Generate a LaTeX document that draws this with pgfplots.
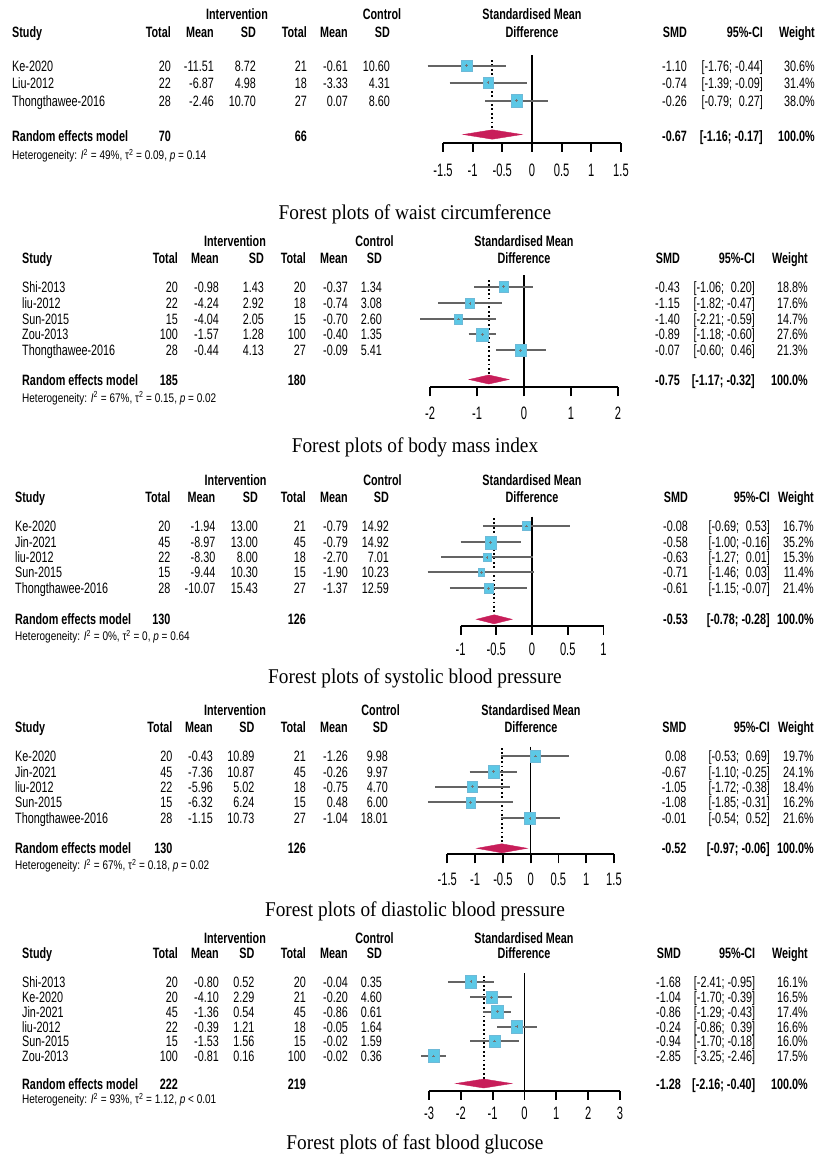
\documentclass[border=0pt]{standalone}
\usepackage{fontspec}
\setmainfont{Liberation Sans}[FakeStretch=0.72]
\newfontfamily\tickfont{Liberation Sans}[FakeStretch=0.62]
\newfontfamily\hetfont{Liberation Sans}[FakeStretch=0.8]
\newfontfamily\capfont{Liberation Serif}[FakeStretch=0.92]
\usepackage{pgfplots}
\usepackage{pgfplotstable}
\pgfplotsset{compat=1.18}

\definecolor{sqblue}{RGB}{92,200,230}
\definecolor{sqedge}{RGB}{110,185,215}
\definecolor{diam}{RGB}{200,30,90}
\definecolor{cigray}{RGB}{100,100,100}

\newcommand\rowf{\fontsize{15bp}{18bp}\selectfont}
\newcommand\tickf{\fontsize{18bp}{20bp}\tickfont}
\newcommand\hetf{\fontsize{12.5bp}{14bp}\hetfont}
\newcommand\capf{\fontsize{21bp}{24bp}\capfont}

% text helpers: x, y (glyph centre in px from the top), text
\newcommand\TL[3]{\node[anchor=base west] at (#1bp,{-#2bp-5.4bp}) {#3};}
\newcommand\TR[3]{\node[anchor=base east] at (#1bp,{-#2bp-5.4bp}) {#3};}
\newcommand\TC[3]{\node[anchor=base] at (#1bp,{-#2bp-5.4bp}) {#3};}
\newcommand\Cols[9]{\def\cS{#1}\def\cTa{#2}\def\cMa{#3}\def\cSa{#4}\def\cTb{#5}\def\cMb{#6}\def\cSb{#7}\def\cE{#8}\def\cCI{#9}}
\newcommand\Row[8]{\TL{\cS}{#1}{#2}\TR{\cTa}{#1}{#3}\TR{\cMa}{#1}{#4}\TR{\cSa}{#1}{#5}\TR{\cTb}{#1}{#6}\TR{\cMb}{#1}{#7}\TR{\cSb}{#1}{#8}}
\newcommand\Res[4]{\TR{\cE}{#1}{#2}\TR{\cCI}{#1}{#3}\TR{\cW}{#1}{#4}}
\newcommand\Head[5]{%
  \TC{#3}{#1}{\bfseries Intervention}\TC{#4}{#1}{\bfseries Control}\TC{#5}{#1}{\bfseries Standardised Mean}%
  \TL{\cS}{#2}{\bfseries Study}\TR{\cTa}{#2}{\bfseries Total}\TR{\cMa}{#2}{\bfseries Mean}\TR{\cSa}{#2}{\bfseries SD}%
  \TR{\cTb}{#2}{\bfseries Total}\TR{\cMb}{#2}{\bfseries Mean}\TR{\cSb}{#2}{\bfseries SD}\TC{#5}{#2}{\bfseries Difference}%
  \TR{\cE}{#2}{\bfseries SMD}\TR{\cCI}{#2}{\bfseries 95\%-CI}\TR{\cW}{#2}{\bfseries Weight}}
\newcommand\Pool[5]{\TL{\cS}{#1}{\bfseries Random effects model}\TR{\cTa}{#1}{\bfseries #2}\TR{\cTb}{#1}{\bfseries #3}%
  \Res{#1}{\bfseries #4}{\bfseries #5}{\bfseries 100.0\%}}
\newcommand\Het[4]{\node[anchor=base west, font=\hetf] at (\cS bp,{-#1bp-4.5bp})
  {Heterogeneity: \textit{I}\textsuperscript{2} = #2\%, τ\textsuperscript{2} = #3, \textit{p} #4};}
\newcommand\Cap[2]{\node[anchor=base, font=\capf] at (415bp,{-#1bp-7bp}) {#2};}

\pgfplotsset{
  forest/.style={scale only axis, enlargelimits=false, clip=false, anchor=south west,
    axis x line*=bottom, axis y line=none, ytick=\empty,
    tick align=outside, major tick length=9bp,
    x axis line style={line width=1.8bp},
    xtick style={line width=1.8bp, black},
    xticklabel style={font=\tickf, anchor=base, inner sep=0pt}},
  ci/.style={cigray, line width=2bp, mark=none, forget plot,
    quiver={u=\thisrow{hi}-\thisrow{lo}, v=0}},
  sq/.style={scatter, only marks, mark=square*, point meta=explicit,
    point meta min=0, point meta max=#1,
    scatter/use mapped color={draw=sqedge, fill=sqblue},
    scatter/@pre marker code/.append style={/tikz/mark size={6.6*sqrt(\pgfplotspointmetatransformed/1000)}},
    mark options={xscale=0.87, line width=0.4bp}},
  cm/.style={only marks, mark=+, mark size=1.4bp, mark options={line width=0.6bp, draw=black!55}},
  zero/.style={black, line width=1.5bp},
  pooled/.style={black, line width=1.8bp, dash pattern=on 1.8bp off 2.6bp},
  dia/.style={fill=diam, draw=diam, line width=0.4bp},
}

% y = row position (px from the top, negative), SMD with 95% CI, weight in %
\pgfplotstableread{
y smd lo hi w
-65.7 -1.10 -1.76 -0.44 30.6
-82.7 -0.74 -1.39 -0.09 31.4
-100.7 -0.26 -0.79 0.27 38.0
}\waist
\pgfplotstableread{
y smd lo hi w
-286.7 -0.43 -1.06 0.20 18.8
-303.3 -1.15 -1.82 -0.47 17.6
-319.0 -1.40 -2.21 -0.59 14.7
-334.3 -0.89 -1.18 -0.60 27.6
-350.3 -0.07 -0.60 0.46 21.3
}\bmi
\pgfplotstableread{
y smd lo hi w
-526.0 -0.08 -0.69 0.53 16.7
-542.3 -0.58 -1.00 -0.16 35.2
-557.3 -0.63 -1.27 0.01 15.3
-572.3 -0.71 -1.46 0.03 11.4
-588.3 -0.61 -1.15 -0.07 21.4
}\sbp
\pgfplotstableread{
y smd lo hi w
-756.0 0.08 -0.53 0.69 19.7
-771.7 -0.67 -1.10 -0.25 24.1
-786.7 -1.05 -1.72 -0.38 18.4
-802.3 -1.08 -1.85 -0.31 16.2
-818.3 -0.01 -0.54 0.52 21.6
}\dbp
\pgfplotstableread{
y smd lo hi w
-981.7 -1.68 -2.41 -0.95 16.1
-997.3 -1.04 -1.70 -0.39 16.5
-1011.7 -0.86 -1.29 -0.43 17.4
-1026.7 -0.24 -0.86 0.39 16.6
-1041.0 -0.94 -1.70 -0.18 16.0
-1056.0 -2.85 -3.25 -2.46 17.5
}\fbg

\newcommand\CIplot[1]{\addplot[ci] table[x=lo, y=y] {#1};}

\begin{document}
\begin{tikzpicture}[every node/.style={inner sep=0pt, font=\rowf}]
\path[use as bounding box] (0,0) rectangle (830bp,-1154bp);

% ---------------- waist circumference
\Cols{12}{171}{214}{256}{307}{348}{390}{687}{763}\def\cW{815}
\Head{14}{32}{237}{382}{532}
\Row{65.7}{Ke-2020}{20}{-11.51}{8.72}{21}{-0.61}{10.60}\Res{65.7}{-1.10}{[-1.76; -0.44]}{30.6\%}
\Row{82.7}{Liu-2012}{22}{-6.87}{4.98}{18}{-3.33}{4.31}\Res{82.7}{-0.74}{[-1.39; -0.09]}{31.4\%}
\Row{100.7}{Thongthawee-2016}{28}{-2.46}{10.70}{27}{0.07}{8.60}\Res{100.7}{-0.26}{[-0.79; \phantom{-}0.27]}{38.0\%}
\Pool{135.7}{70}{66}{-0.67}{[-1.16; -0.17]}
\Het{155}{49}{0.09}{= 0.14}
\Cap{212}{Forest plots of waist circumference}
\begin{axis}[forest, at={(443bp,-142.7bp)}, width=178bp, height=87.7bp,
  xmin=-1.5, xmax=1.5, ymin=-142.7, ymax=-55,
  xtick={-1.5,-1,-0.5,0,0.5,1,1.5}, xticklabels={-1.5,-1,-0.5,0,0.5,1,1.5},
  xticklabel style={yshift=-25bp}]
\addplot[pooled] coordinates {(-0.67,-60) (-0.67,-134)};
\addplot[zero] coordinates {(0,-55) (0,-142.7)};
\CIplot{\waist}
\addplot[sq=38.0] table[x=smd, y=y, meta=w] {\waist};
\addplot[cm] table[x=smd, y=y] {\waist};
\addplot[dia] coordinates {(-1.16,-134.5) (-0.67,-129.8) (-0.17,-134.5) (-0.67,-139.2)} -- cycle;
\end{axis}

% ---------------- body mass index
\Cols{22}{178}{219}{264}{306}{348}{382}{680}{755}\def\cW{808}
\Head{241}{258}{235}{374.5}{524}
\Row{286.7}{Shi-2013}{20}{-0.98}{1.43}{20}{-0.37}{1.34}\Res{286.7}{-0.43}{[-1.06; \phantom{-}0.20]}{18.8\%}
\Row{303.3}{liu-2012}{22}{-4.24}{2.92}{18}{-0.74}{3.08}\Res{303.3}{-1.15}{[-1.82; -0.47]}{17.6\%}
\Row{319}{Sun-2015}{15}{-4.04}{2.05}{15}{-0.70}{2.60}\Res{319}{-1.40}{[-2.21; -0.59]}{14.7\%}
\Row{334.3}{Zou-2013}{100}{-1.57}{1.28}{100}{-0.40}{1.35}\Res{334.3}{-0.89}{[-1.18; -0.60]}{27.6\%}
\Row{350.3}{Thongthawee-2016}{28}{-0.44}{4.13}{27}{-0.09}{5.41}\Res{350.3}{-0.07}{[-0.60; \phantom{-}0.46]}{21.3\%}
\Pool{380}{185}{180}{-0.75}{[-1.17; -0.32]}
\Het{397.7}{67}{0.15}{= 0.02}
\Cap{445}{Forest plots of body mass index}
\begin{axis}[forest, at={(430bp,-387.3bp)}, width=188bp, height=112.3bp,
  xmin=-2, xmax=2, ymin=-387.3, ymax=-275,
  xtick={-2,-1,0,1,2}, xticklabels={-2,-1,0,1,2},
  xticklabel style={yshift=-23.5bp}]
\addplot[pooled] coordinates {(-0.75,-280) (-0.75,-377)};
\addplot[zero] coordinates {(0,-275) (0,-387.3)};
\CIplot{\bmi}
\addplot[sq=27.6] table[x=smd, y=y, meta=w] {\bmi};
\addplot[cm] table[x=smd, y=y] {\bmi};
\addplot[dia] coordinates {(-1.17,-379.5) (-0.75,-375) (-0.32,-379.5) (-0.75,-384)} -- cycle;
\end{axis}

% ---------------- systolic blood pressure
\Cols{15}{170.5}{215.5}{258}{306}{348}{389}{688}{770}\def\cW{814}
\Head{480}{496.7}{235.6}{382.5}{532}
\Row{526}{Ke-2020}{20}{-1.94}{13.00}{21}{-0.79}{14.92}\Res{526}{-0.08}{[-0.69; \phantom{-}0.53]}{16.7\%}
\Row{542.3}{Jin-2021}{45}{-8.97}{13.00}{45}{-0.79}{14.92}\Res{542.3}{-0.58}{[-1.00; -0.16]}{35.2\%}
\Row{557.3}{liu-2012}{22}{-8.30}{8.00}{18}{-2.70}{7.01}\Res{557.3}{-0.63}{[-1.27; \phantom{-}0.01]}{15.3\%}
\Row{572.3}{Sun-2015}{15}{-9.44}{10.30}{15}{-1.90}{10.23}\Res{572.3}{-0.71}{[-1.46; \phantom{-}0.03]}{11.4\%}
\Row{588.3}{Thongthawee-2016}{28}{-10.07}{15.43}{27}{-1.37}{12.59}\Res{588.3}{-0.61}{[-1.15; -0.07]}{21.4\%}
\Pool{619.3}{130}{126}{-0.53}{[-0.78; -0.28]}
\Het{636}{0}{0}{= 0.64}
\Cap{676}{Forest plots of systolic blood pressure}
\begin{axis}[forest, at={(460.6bp,-625.7bp)}, width=142.9bp, height=109bp,
  xmin=-1, xmax=1, ymin=-625.7, ymax=-516.7,
  xtick={-1,-0.5,0,0.5,1}, xticklabels={-1,-0.5,0,0.5,1},
  xticklabel style={yshift=-21bp}]
\addplot[pooled] coordinates {(-0.53,-518) (-0.53,-617)};
\addplot[zero] coordinates {(0,-516.7) (0,-625.7)};
\CIplot{\sbp}
\addplot[sq=35.2] table[x=smd, y=y, meta=w] {\sbp};
\addplot[cm] table[x=smd, y=y] {\sbp};
\addplot[dia] coordinates {(-0.78,-619.3) (-0.53,-614.8) (-0.28,-619.3) (-0.53,-623.8)} -- cycle;
\end{axis}

% ---------------- diastolic blood pressure
\Cols{15}{172.6}{213}{254.6}{306}{348}{388}{686.6}{770}\def\cW{814}
\Head{710}{726.7}{235}{380.6}{531}
\Row{756}{Ke-2020}{20}{-0.43}{10.89}{21}{-1.26}{9.98}\Res{756}{0.08}{[-0.53; \phantom{-}0.69]}{19.7\%}
\Row{771.7}{Jin-2021}{45}{-7.36}{10.87}{45}{-0.26}{9.97}\Res{771.7}{-0.67}{[-1.10; -0.25]}{24.1\%}
\Row{786.7}{liu-2012}{22}{-5.96}{5.02}{18}{-0.75}{4.70}\Res{786.7}{-1.05}{[-1.72; -0.38]}{18.4\%}
\Row{802.3}{Sun-2015}{15}{-6.32}{6.24}{15}{0.48}{6.00}\Res{802.3}{-1.08}{[-1.85; -0.31]}{16.2\%}
\Row{818.3}{Thongthawee-2016}{28}{-1.15}{10.73}{27}{-1.04}{18.01}\Res{818.3}{-0.01}{[-0.54; \phantom{-}0.52]}{21.6\%}
\Pool{848.3}{130}{126}{-0.52}{[-0.97; -0.06]}
\Het{865}{67}{0.18}{= 0.02}
\Cap{909}{Forest plots of diastolic blood pressure}
\begin{axis}[forest, at={(447.3bp,-854.3bp)}, width=166.7bp, height=107.6bp,
  xmin=-1.5, xmax=1.5, ymin=-854.3, ymax=-746.7,
  xtick={-1.5,-1,-0.5,0,0.5,1,1.5}, xticklabels={-1.5,-1,-0.5,0,0.5,1,1.5},
  xticklabel style={yshift=-22bp}]
\addplot[pooled] coordinates {(-0.52,-748) (-0.52,-846)};
\addplot[zero] coordinates {(0,-746.7) (0,-854.3)};
\CIplot{\dbp}
\addplot[sq=24.1] table[x=smd, y=y, meta=w] {\dbp};
\addplot[cm] table[x=smd, y=y] {\dbp};
\addplot[dia] coordinates {(-0.97,-848.3) (-0.52,-843.8) (-0.06,-848.3) (-0.52,-852.8)} -- cycle;
\end{axis}

% ---------------- fasting blood glucose
\Cols{22}{178}{219}{254.6}{306}{348}{382}{681}{755.4}\def\cW{808}
\Head{938}{953}{235}{374.5}{524}
\Row{981.7}{Shi-2013}{20}{-0.80}{0.52}{20}{-0.04}{0.35}\Res{981.7}{-1.68}{[-2.41; -0.95]}{16.1\%}
\Row{997.3}{Ke-2020}{20}{-4.10}{2.29}{21}{-0.20}{4.60}\Res{997.3}{-1.04}{[-1.70; -0.39]}{16.5\%}
\Row{1011.7}{Jin-2021}{45}{-1.36}{0.54}{45}{-0.86}{0.61}\Res{1011.7}{-0.86}{[-1.29; -0.43]}{17.4\%}
\Row{1026.7}{liu-2012}{22}{-0.39}{1.21}{18}{-0.05}{1.64}\Res{1026.7}{-0.24}{[-0.86; \phantom{-}0.39]}{16.6\%}
\Row{1041}{Sun-2015}{15}{-1.53}{1.56}{15}{-0.02}{1.59}\Res{1041}{-0.94}{[-1.70; -0.18]}{16.0\%}
\Row{1056}{Zou-2013}{100}{-0.81}{0.16}{100}{-0.02}{0.36}\Res{1056}{-2.85}{[-3.25; -2.46]}{17.5\%}
\Pool{1084}{222}{219}{-1.28}{[-2.16; -0.40]}
\Het{1099.3}{93}{1.12}{< 0.01}
\Cap{1142}{Forest plots of fast blood glucose}
\begin{axis}[forest, at={(429bp,-1090.7bp)}, width=191bp, height=117.7bp,
  xmin=-3, xmax=3, ymin=-1090.7, ymax=-973,
  xtick={-3,-2,-1,0,1,2,3}, xticklabels={-3,-2,-1,0,1,2,3},
  xticklabel style={yshift=-19.5bp}]
\addplot[pooled] coordinates {(-1.28,-976) (-1.28,-1082)};
\addplot[zero] coordinates {(0,-973) (0,-1090.7)};
\CIplot{\fbg}
\addplot[sq=17.5] table[x=smd, y=y, meta=w] {\fbg};
\addplot[cm] table[x=smd, y=y] {\fbg};
\addplot[dia] coordinates {(-2.16,-1083.5) (-1.28,-1079) (-0.40,-1083.5) (-1.28,-1088)} -- cycle;
\end{axis}
\end{tikzpicture}
\end{document}
